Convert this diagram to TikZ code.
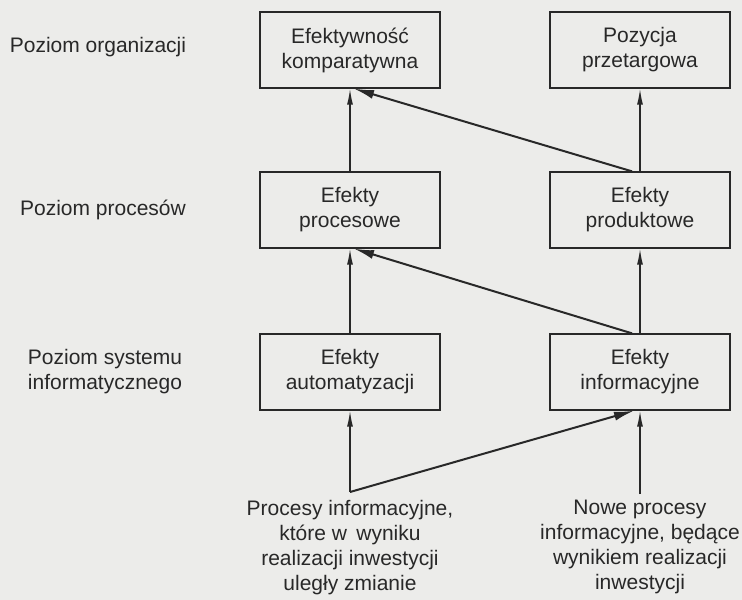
\documentclass[tikz,border=0pt]{standalone}
\usepackage{fontspec}
\setmainfont{Liberation Sans}
\usetikzlibrary{arrows.meta}
\definecolor{bg}{RGB}{236,236,234}
\definecolor{ink}{RGB}{40,40,40}
\tikzset{
  box/.style={draw=ink, line width=1.3pt, minimum width=180pt, minimum height=76pt,
    align=center, inner sep=2pt, font=\fontsize{21}{25}\selectfont, text=ink},
  lbl/.style={align=center, inner sep=0pt, font=\fontsize{21}{25}\selectfont, text=ink},
  varr/.style={draw=ink, line width=1.4pt, -{Latex[length=16pt,width=6pt]}},
  darr/.style={draw=ink, line width=2pt, -{Latex[length=20pt,width=9pt]}},
  plain/.style={draw=ink, line width=1.4pt}
}
\begin{document}
\begin{tikzpicture}[x=1pt,y=-1pt]
\fill[bg] (0,0) rectangle (742,600);
\useasboundingbox (0,0) rectangle (742,600);

\node[box] (ek) at (350,50) {Efektywność\\komparatywna};
\node[box] (pp) at (640,50) {Pozycja\\przetargowa};
\node[box] (ep) at (350,210) {Efekty\\procesowe};
\node[box] (pr) at (640,210) {Efekty\\produktowe};
\node[box] (ea) at (350,372) {Efekty\\automatyzacji};
\node[box] (ei) at (640,372) {Efekty\\informacyjne};

\node[lbl] (l1) at (98,47) {Poziom organizacji};
\node[lbl] (l2) at (103,210) {Poziom procesów};
\node[lbl] (l3) at (105,372) {Poziom systemu\\informatycznego};

\node[lbl, anchor=north] (t1) at (350,500) {Procesy informacyjne,\\które w\, wyniku\\realizacji inwestycji\\uległy zmianie};
\node[lbl, anchor=north] (t2) at (640,500) {Nowe procesy\\informacyjne, będące\\wynikiem realizacji\\inwestycji};

\coordinate (j1) at (350,492);
\coordinate (j2) at (640,494);

\draw[varr] (ep.north) -- (ek.south);
\draw[varr] (pr.north) -- (pp.south);
\draw[darr] ([xshift=-8pt]pr.north) -- ([xshift=4pt]ek.south);

\draw[varr] (ea.north) -- (ep.south);
\draw[varr] (ei.north) -- (pr.south);
\draw[darr] ([xshift=-8pt]ei.north) -- ([xshift=4pt]ep.south);

\draw[varr] (j1) -- (ea.south);
\draw[varr] (j2) -- (ei.south);
\draw[darr] (j1) -- ([xshift=-6pt]ei.south);
\end{tikzpicture}
\end{document}
